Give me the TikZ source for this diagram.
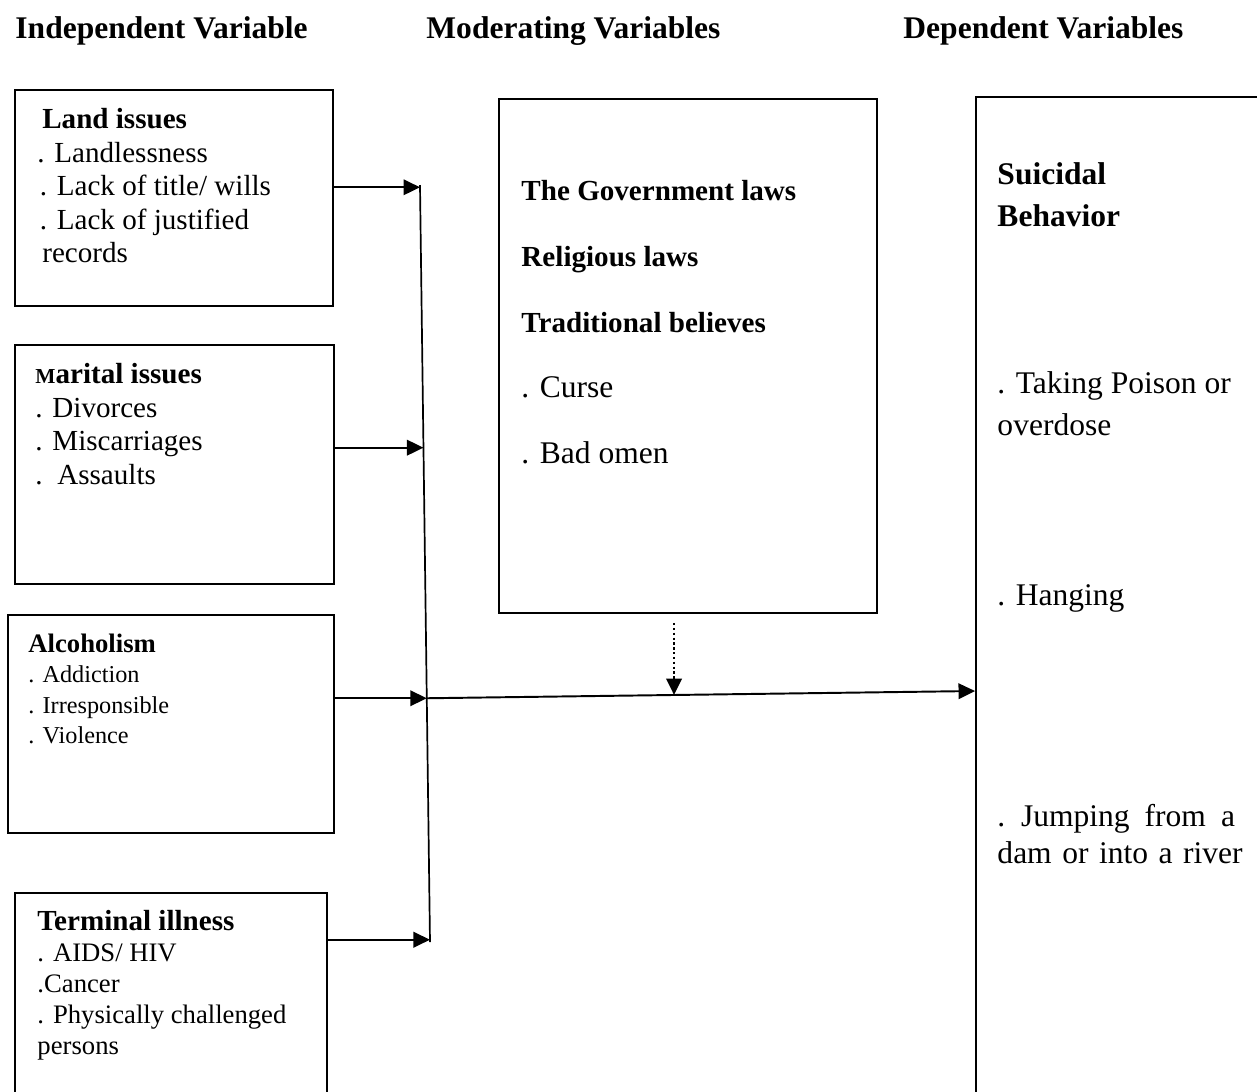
\documentclass[tikz,border=0pt]{standalone}
\usepackage{fontspec}
\setmainfont{Liberation Serif}
\usetikzlibrary{arrows.meta,calc,fit}
\tikzstyle{box}=[draw,line width=0.8pt,inner sep=0pt]
\tikzstyle{boxtext}=[align=left,anchor=north west,inner sep=0pt]
\tikzstyle{heading}=[anchor=base west,inner sep=0pt,font=\bfseries\fontsize{13}{15}\selectfont]
\tikzstyle{arr}=[->,line width=0.8pt]
\tikzstyle{modarr}=[->,line width=1pt,dash pattern=on 1pt off 1pt,shorten <=3.7pt]
\newcommand{\smallM}{{\fontsize{8.8}{10}\selectfont M}}

\begin{document}
\begin{tikzpicture}[x=0.0145cm,y=-0.0145cm,>={Triangle[length=6.8pt,width=6.4pt]}]
	\clip (0,0) rectangle (1257,1091);
	% column titles
	\node[heading] (indep) at (15,38) {Independent Variable};
	\node[heading] (moder) at (426,38) {Moderating Variables};
	\node[heading] (depen) at (903,38) {Dependent Variables};
	% independent variables
	\node[box,fit={(15,90) (333,306)}] (land) {};
	\node[boxtext,font=\fontsize{12}{13.8}\selectfont] (landtxt) at (37,108)
		{\hspace{2pt}\textbf{Land issues}\\. Landlessness\\\hspace{1pt}. Lack of title/ wills\\\hspace{1pt}. Lack of justified\\\hspace{2pt}records};
	\node[box,fit={(15,345) (334,584)}] (mar) {};
	\node[boxtext,font=\fontsize{12}{13.8}\selectfont] (martxt) at (35,363)
		{\textbf{\smallM arital issues}\\. Divorces\\. Miscarriages\\.\ \ Assaults};
	\node[box,fit={(8,615) (334,833)}] (alc) {};
	\node[boxtext,font=\fontsize{10}{12.6}\selectfont] (alctxt) at (28,633)
		{{\fontsize{11}{12.6}\selectfont\bfseries Alcoholism}\\. Addiction\\. Irresponsible\\. Violence};
	\node[box,fit={(15,893) (327,1110)}] (term) {};
	\node[boxtext,font=\fontsize{11}{12.8}\selectfont] (termtxt) at (37,910)
		{{\fontsize{12}{12.8}\selectfont\bfseries Terminal illness}\\. AIDS/ HIV\\.Cancer\\. Physically challenged\\persons};
	% moderating variables
	\node[box,fit={(499,99) (877,613)}] (mod) {};
	\node[boxtext,font=\fontsize{12}{27.1}\selectfont] (modtxt) at (521,180)
		{\textbf{The Government laws}\\\textbf{Religious laws}\\\textbf{Traditional believes}\\{\fontsize{13}{27.1}\selectfont . Curse}\\{\fontsize{13}{27.1}\selectfont . Bad omen}};
	% dependent variables
	\node[box,fit={(976,97) (1275,1110)}] (sb) {};
	\node[boxtext,font=\bfseries\fontsize{13}{17.3}\selectfont] (sbtitle) at (997,162) {Suicidal\\Behavior};
	\node[boxtext,font=\fontsize{13}{17.3}\selectfont] (poison) at (997,371) {. Taking Poison or\\overdose};
	\node[boxtext,font=\fontsize{13}{17.3}\selectfont] (hanging) at (997,584) {. Hanging};
	\node[boxtext,font=\fontsize{13}{15}\selectfont,text width=98pt] (jumping) at (997,804)
		{. Jumping\hfill from\hfill a\\\mbox{dam or into a river}};
	% collecting line and arrows
	\coordinate (trtop) at (420,185);
	\coordinate (trbot) at (430,942);
	\draw[line width=0.7pt] (trtop) -- (trbot);
	\coordinate (tk1) at ($(trtop)!0.003!(trbot)$);
	\coordinate (tk2) at ($(trtop)!0.347!(trbot)$);
	\coordinate (tk3) at ($(trtop)!0.678!(trbot)$);
	\coordinate (tk4) at ($(trtop)!0.997!(trbot)$);
	\draw[arr] (land.east |- tk1) -- (tk1);
	\draw[arr] (mar.east |- tk2) -- (tk2);
	\draw[arr] (alc.east |- tk3) -- (tk3);
	\draw[arr] (term.east |- tk4) -- (tk4);
	\coordinate (sbin) at (sb.west |- 0,691);
	\draw[arr] (tk3) -- (sbin);
	\coordinate (modin) at ($(tk3)!0.451!(sbin)$);
	\draw[modarr] (mod.south -| modin) -- (modin);
\end{tikzpicture}
\end{document}
